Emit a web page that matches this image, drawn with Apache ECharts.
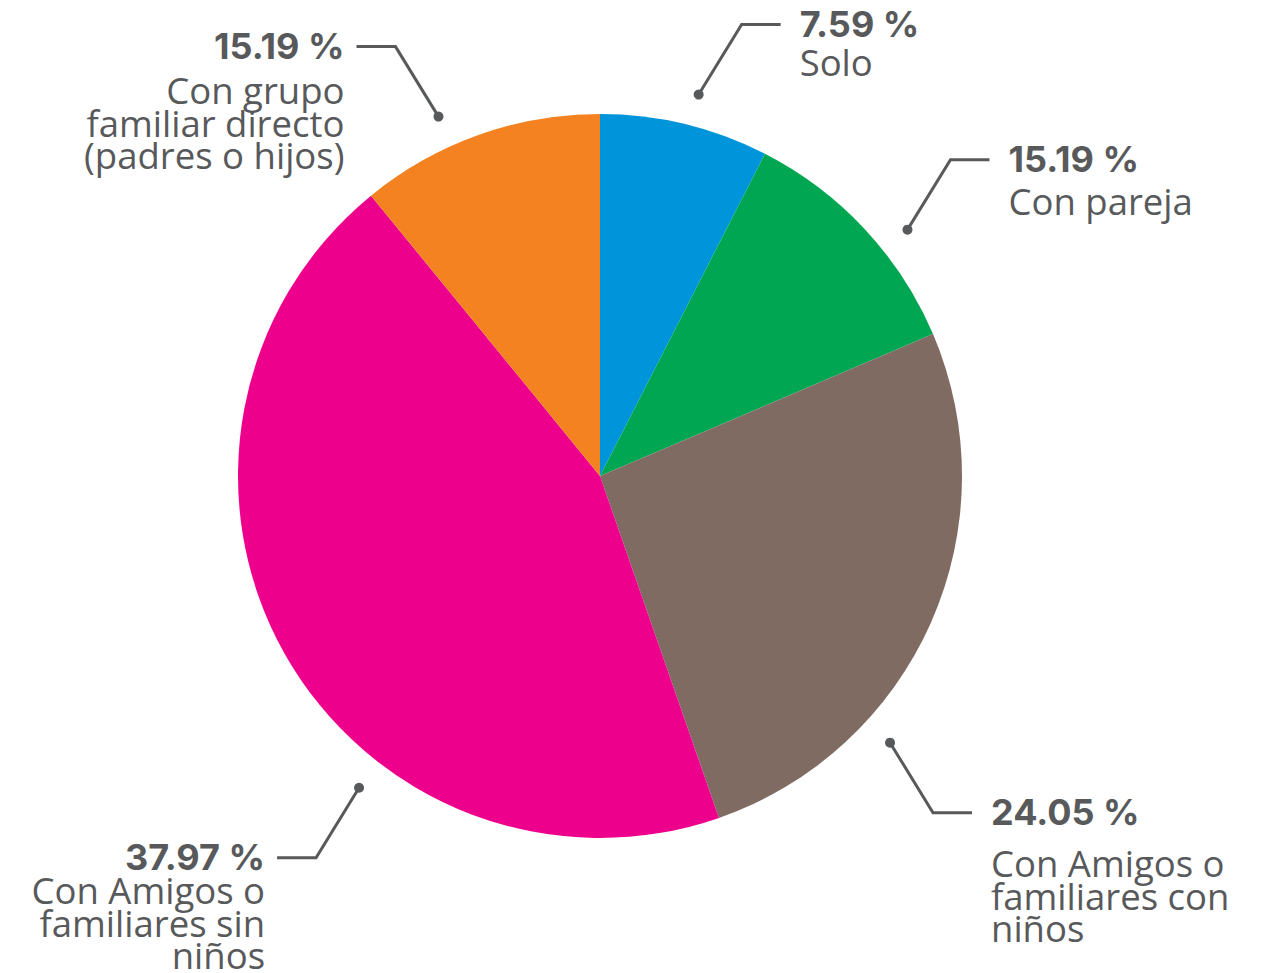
<!DOCTYPE html>
<html>
<head>
<meta charset="utf-8">
<script src="https://cdn.jsdelivr.net/npm/echarts@6/dist/echarts.min.js"></script>
<style>
  html, body { margin: 0; padding: 0; background: #ffffff; }
  #chart { width: 1271px; height: 973px; }
</style>
</head>
<body>
<div id="chart"></div>
<script>
// ---- data ----
const categories = ['Solo', 'Con pareja', 'Con Amigos o familiares con niños', 'Con Amigos o familiares sin niños', 'Con grupo familiar directo (padres o hijos)'];
const categoryLines = [
  ['Solo'],
  ['Con pareja'],
  ['Con Amigos o', 'familiares con', 'niños'],
  ['Con Amigos o', 'familiares sin', 'niños'],
  ['Con grupo', 'familiar directo', '(padres o hijos)']
];
// slice sizes as drawn in the picture (share of the circle, %)
const sliceShares = [7.53, 11.06, 26.08, 44.43, 10.90];
// percentages printed in the labels
const percentLabels = ['7.59 %', '15.19 %', '24.05 %', '37.97 %', '15.19 %'];

// ---- styles / layout ----
const sliceColors = ['#0095DA', '#00A651', '#806B63', '#EC008C', '#F58220'];
const TEXT_COLOR = '#58595B';
const CENTER = [600, 476];
const PIE_R = 362;
const ANCHOR_R = 394;                                        // leader-line dot distance from centre
const labelAnchorAngles = [14.5, 51.3, 132.6, 217.7, 335.8]; // degrees clockwise from 12 o'clock
const subtitleGaps = [51, 55, 64, 46, 57];                   // leader line -> first subtitle baseline
const SUB_LH = 32.5;
const SUB_FS = 36.5;

const chart = echarts.init(document.getElementById('chart'), null, { renderer: 'svg' });

const option = {
  animation: false,
  backgroundColor: '#ffffff',
  polar: { center: CENTER, radius: PIE_R },
  angleAxis: { type: 'value', min: 0, max: 360, startAngle: 90, clockwise: true, show: false },
  radiusAxis: { type: 'value', min: 0, max: PIE_R, show: false },
  series: [
    {
      type: 'pie',
      center: CENTER,
      radius: PIE_R,
      startAngle: 90,
      clockwise: true,
      silent: true,
      label: { show: false },
      labelLine: { show: false },
      itemStyle: { borderWidth: 0 },
      data: categories.map((c, i) => ({
        name: c,
        value: sliceShares[i],
        itemStyle: { color: sliceColors[i] }
      }))
    },
    {
      type: 'custom',
      coordinateSystem: 'polar',
      silent: true,
      data: categories.map((c, i) => [ANCHOR_R, labelAnchorAngles[i]]),
      renderItem: function (params, api) {
        const i = params.dataIndex;
        const cs = params.coordSys;
        const p = api.coord([api.value(0), api.value(1)]);
        const sx = p[0] >= cs.cx ? 1 : -1;
        const sy = p[1] <= cs.cy ? -1 : 1;
        const corner = [p[0] + sx * 43, p[1] + sy * 70];
        const end = [corner[0] + sx * 39, corner[1]];
        const tx = end[0] + sx * (sx > 0 ? 19 : 12);
        const align = sx > 0 ? 'left' : 'right';
        return {
          type: 'group',
          children: [
            {
              type: 'polyline',
              shape: { points: [p, corner, end] },
              style: { stroke: TEXT_COLOR, lineWidth: 3, fill: null }
            },
            {
              type: 'circle',
              shape: { cx: p[0], cy: p[1], r: 5 },
              style: { fill: TEXT_COLOR }
            },
            {
              type: 'text',
              style: {
                text: percentLabels[i],
                x: tx, y: end[1] - 1,
                align: align, verticalAlign: 'middle',
                fontFamily: 'Inter', fontWeight: 'bold', fontSize: 36,
                fill: TEXT_COLOR
              }
            },
            {
              type: 'text',
              style: {
                text: categoryLines[i].join('\n'),
                x: tx, y: end[1] + subtitleGaps[i] - SUB_LH / 2 - 0.368 * SUB_FS,
                align: align, verticalAlign: 'top',
                fontFamily: 'Open Sans', fontSize: SUB_FS, lineHeight: SUB_LH,
                fill: TEXT_COLOR
              }
            }
          ]
        };
      }
    }
  ]
};
chart.setOption(option);
</script>
</body>
</html>
